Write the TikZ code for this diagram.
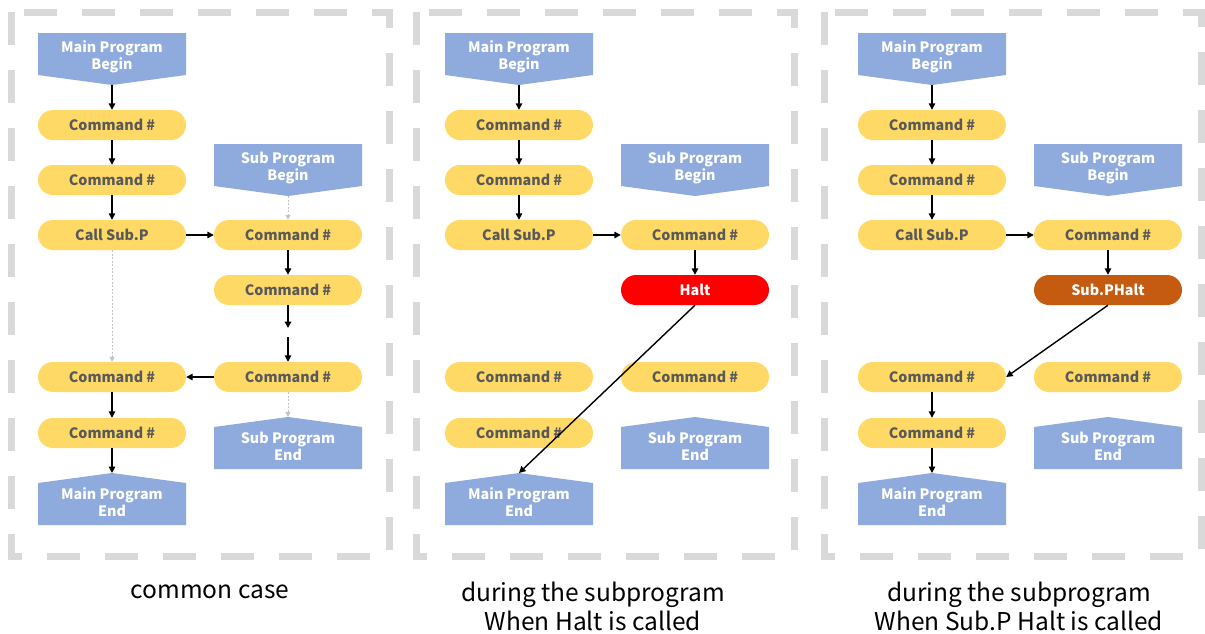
\documentclass[tikz,border=0pt]{standalone}
\usepackage{fontspec}
\setmainfont{Noto Sans CJK KR}
\usetikzlibrary{arrows.meta}

\definecolor{progblue}{HTML}{8FAADC}
\definecolor{cmdyellow}{HTML}{FFD966}
\definecolor{haltred}{HTML}{FF0000}
\definecolor{halbrown}{HTML}{C55A11}
\definecolor{textgray}{HTML}{595959}
\definecolor{ghostgray}{HTML}{C4C4C4}
\definecolor{framegray}{HTML}{D9D9D9}

% Pentagon "begin" block pointing down: name, centre x, top y, text
\newcommand\progbegin[4]{%
  \fill[progblue] (#2-74,#3) -- (#2+74,#3) -- (#2+74,#3+42) -- (#2,#3+52) -- (#2-74,#3+42) -- cycle;
  \node[progtext] (#1) at (#2,#3+24) {#4};
  \coordinate (#1-tip) at (#2,#3+52);}
% Pentagon "end" block pointing up: name, centre x, tip y, text
\newcommand\progend[4]{%
  \fill[progblue] (#2,#3) -- (#2+74,#3+10) -- (#2+74,#3+52) -- (#2-74,#3+52) -- (#2-74,#3+10) -- cycle;
  \node[progtext] (#1) at (#2,#3+29) {#4};
  \coordinate (#1-tip) at (#2,#3);}

\begin{document}
\begin{tikzpicture}[x=1pt,y=-1pt,
  boxfont/.style={font=\fontsize{14.3}{17}\selectfont\bfseries},
  progtext/.style={boxfont, text=white, align=center, inner sep=0pt,
    minimum width=148pt, minimum height=40pt},
  cmd/.style={boxfont, fill=cmdyellow, text=textgray, rounded corners=15pt,
    minimum width=148pt, minimum height=30pt, inner sep=0pt},
  haltbox/.style={cmd, fill=haltred, text=white},
  subhalt/.style={cmd, fill=halbrown, text=white},
  flow/.style={-{Triangle[length=6.5pt,width=6.5pt]}, line width=1.4pt, black},
  ghost/.style={-{Triangle[length=5pt,width=5pt]}, line width=1pt, ghostgray,
    dash pattern=on 2pt off 1.5pt},
  frame/.style={framegray, line width=7pt, dash pattern=on 33pt off 25pt},
  caption/.style={font=\fontsize{24.5}{29}\selectfont, align=center, text=black}]

\useasboundingbox (0,0) rectangle (1205,633);
\fill[white] (0,0) rectangle (1205,633);

% panel frames
\draw[frame] (11,12) rectangle (389,556);
\draw[frame] (416,12) rectangle (794,556);
\draw[frame] (824,12) rectangle (1201,556);

% ---------- panel A: common case ----------
\progbegin{a-mb}{112}{33}{Main Program\\Begin}
\node[cmd] (a-c1) at (112,125) {Command \#};
\node[cmd] (a-c2) at (112,180) {Command \#};
\node[cmd] (a-call) at (112,235) {Call Sub.P};
\node[cmd] (a-c3) at (112,377) {Command \#};
\node[cmd] (a-c4) at (112,433) {Command \#};
\progend{a-me}{112}{473}{Main Program\\End}
\progbegin{a-sb}{288}{144}{Sub Program\\Begin}
\node[cmd] (a-s1) at (288,235) {Command \#};
\node[cmd] (a-s2) at (288,290) {Command \#};
\node[cmd] (a-s3) at (288,377) {Command \#};
\progend{a-se}{288}{417}{Sub Program\\End}
\coordinate (a-g1) at (288,328);
\coordinate (a-g2) at (288,337);

\draw[flow] (a-mb-tip) -- (a-c1);
\draw[flow] (a-c1) -- (a-c2);
\draw[flow] (a-c2) -- (a-call);
\draw[flow] (a-call) -- (a-s1);
\draw[flow] (a-s1) -- (a-s2);
\draw[flow] (a-s2) -- (a-g1);
\draw[flow] (a-g2) -- (a-s3);
\draw[flow] (a-s3) -- (a-c3);
\draw[flow] (a-c3) -- (a-c4);
\draw[flow] (a-c4) -- (a-me-tip);
\draw[ghost] (a-sb-tip) -- (a-s1);
\draw[ghost] (a-call) -- (a-c3);
\draw[ghost] (a-s3) -- (a-se-tip);

% ---------- panel B: Halt inside the subprogram ----------
\progbegin{b-mb}{519}{33}{Main Program\\Begin}
\node[cmd] (b-c1) at (519,125) {Command \#};
\node[cmd] (b-c2) at (519,180) {Command \#};
\node[cmd] (b-call) at (519,235) {Call Sub.P};
\node[cmd] (b-c3) at (519,377) {Command \#};
\node[cmd] (b-c4) at (519,433) {Command \#};
\progend{b-me}{519}{473}{Main Program\\End}
\progbegin{b-sb}{695}{144}{Sub Program\\Begin}
\node[cmd] (b-s1) at (695,235) {Command \#};
\node[haltbox] (b-s2) at (695,290) {Halt};
\node[cmd] (b-s3) at (695,377) {Command \#};
\progend{b-se}{695}{417}{Sub Program\\End}

\draw[flow] (b-mb-tip) -- (b-c1);
\draw[flow] (b-c1) -- (b-c2);
\draw[flow] (b-c2) -- (b-call);
\draw[flow] (b-call) -- (b-s1);
\draw[flow] (b-s1) -- (b-s2);
\draw[flow] (b-s2.south) -- (b-me-tip);

% ---------- panel C: Sub.P Halt inside the subprogram ----------
\progbegin{c-mb}{932}{33}{Main Program\\Begin}
\node[cmd] (c-c1) at (932,125) {Command \#};
\node[cmd] (c-c2) at (932,180) {Command \#};
\node[cmd] (c-call) at (932,235) {Call Sub.P};
\node[cmd] (c-c3) at (932,377) {Command \#};
\node[cmd] (c-c4) at (932,433) {Command \#};
\progend{c-me}{932}{473}{Main Program\\End}
\progbegin{c-sb}{1108}{144}{Sub Program\\Begin}
\node[cmd] (c-s1) at (1108,235) {Command \#};
\node[subhalt] (c-s2) at (1108,290) {Sub.PHalt};
\node[cmd] (c-s3) at (1108,377) {Command \#};
\progend{c-se}{1108}{417}{Sub Program\\End}

\draw[flow] (c-mb-tip) -- (c-c1);
\draw[flow] (c-c1) -- (c-c2);
\draw[flow] (c-c2) -- (c-call);
\draw[flow] (c-call) -- (c-s1);
\draw[flow] (c-s1) -- (c-s2);
\draw[flow] (c-s2.south) -- (c-c3.east);
\draw[flow] (c-c3) -- (c-c4);
\draw[flow] (c-c4) -- (c-me-tip);

% ---------- captions ----------
\node[caption] (cap-a) at (210,592) {common case};
\node[caption] (cap-b) at (593,606.5) {during the subprogram\\When Halt is called};
\node[caption] (cap-c) at (1019,606.5) {during the subprogram\\When Sub.P Halt is called};
\end{tikzpicture}
\end{document}
